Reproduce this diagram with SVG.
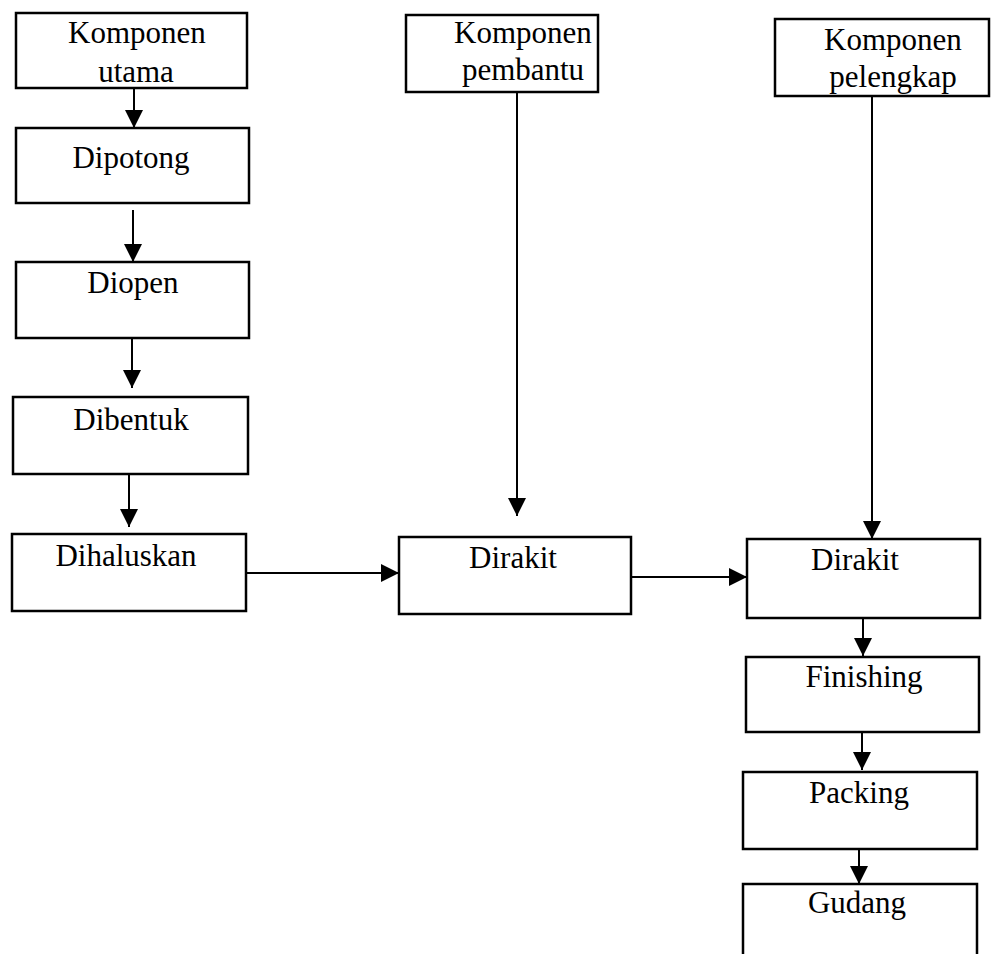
<svg xmlns="http://www.w3.org/2000/svg" width="1000" height="954" viewBox="0 0 1000 954">
<style>
.box{fill:none;stroke:#000;stroke-width:2.5}
.lbl{font-family:"Liberation Serif","Times New Roman",serif;font-size:31px;fill:#000;text-anchor:middle}
.con{fill:none;stroke:#000;stroke-width:2}
</style>
<defs>
<marker id="ah" markerUnits="userSpaceOnUse" markerWidth="20" markerHeight="20" viewBox="0 0 20 20" refX="18" refY="10" orient="auto">
<polygon points="0,1 18,10 0,19" fill="#000"/>
</marker>
</defs>
<rect width="1000" height="954" fill="#fff"/>
<g id="n-utama"><rect class="box" x="16" y="13" width="231" height="75"/><text class="lbl" x="137" y="43">Komponen</text><text class="lbl" x="136" y="82">utama</text></g>
<g id="n-dipotong"><rect class="box" x="16" y="128" width="233" height="75"/><text class="lbl" x="131" y="168">Dipotong</text></g>
<g id="n-diopen"><rect class="box" x="16" y="262" width="233" height="76"/><text class="lbl" x="133" y="293">Diopen</text></g>
<g id="n-dibentuk"><rect class="box" x="13" y="397" width="235" height="77"/><text class="lbl" x="131" y="430">Dibentuk</text></g>
<g id="n-dihaluskan"><rect class="box" x="12" y="534" width="234" height="77"/><text class="lbl" x="126" y="566">Dihaluskan</text></g>
<g id="n-pembantu"><rect class="box" x="406" y="15" width="192" height="77"/><text class="lbl" x="523" y="43">Komponen</text><text class="lbl" x="523" y="80">pembantu</text></g>
<g id="n-dirakit1"><rect class="box" x="399" y="537" width="232" height="77"/><text class="lbl" x="513" y="568">Dirakit</text></g>
<g id="n-pelengkap"><rect class="box" x="775" y="19" width="214" height="77"/><text class="lbl" x="893" y="50">Komponen</text><text class="lbl" x="893" y="87">pelengkap</text></g>
<g id="n-dirakit2"><rect class="box" x="747" y="539" width="233" height="79"/><text class="lbl" x="855" y="570">Dirakit</text></g>
<g id="n-finishing"><rect class="box" x="746" y="657" width="233" height="75"/><text class="lbl" x="864" y="687">Finishing</text></g>
<g id="n-packing"><rect class="box" x="743" y="772" width="234" height="77"/><text class="lbl" x="859" y="803">Packing</text></g>
<g id="n-gudang"><path class="box" d="M743,954 V884 H977 V954"/><text class="lbl" x="857" y="913">Gudang</text></g>
<g id="connectors">
<line class="con" x1="134" y1="88" x2="134" y2="128" marker-end="url(#ah)"/>
<line class="con" x1="133" y1="210" x2="133" y2="262" marker-end="url(#ah)"/>
<line class="con" x1="132" y1="338" x2="132" y2="388" marker-end="url(#ah)"/>
<line class="con" x1="129" y1="474" x2="129" y2="527" marker-end="url(#ah)"/>
<line class="con" x1="246" y1="573" x2="399" y2="573" marker-end="url(#ah)"/>
<line class="con" x1="517" y1="92" x2="517" y2="516" marker-end="url(#ah)"/>
<line class="con" x1="631" y1="577" x2="747" y2="577" marker-end="url(#ah)"/>
<line class="con" x1="872" y1="96" x2="872" y2="539" marker-end="url(#ah)"/>
<line class="con" x1="863" y1="618" x2="863" y2="656" marker-end="url(#ah)"/>
<line class="con" x1="862" y1="732" x2="862" y2="770" marker-end="url(#ah)"/>
<line class="con" x1="859" y1="849" x2="859" y2="884" marker-end="url(#ah)"/>
</g>
</svg>
